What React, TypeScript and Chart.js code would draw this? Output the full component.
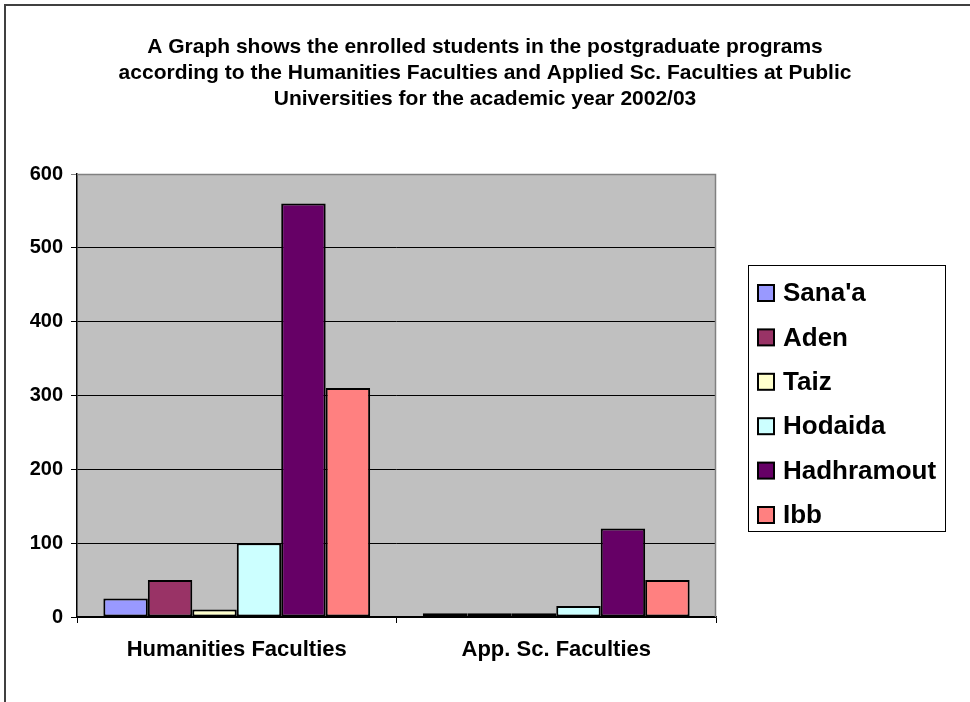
import React, { useEffect, useRef } from "react";
import { Chart, registerables } from "chart.js";

Chart.register(...registerables);

const categories = ["Humanities Faculties", "App. Sc. Faculties"];
const seriesNames = ["Sana'a", "Aden", "Taiz", "Hodaida", "Hadhramout", "Ibb"];
const sanaa = [25, 5];
const aden = [50, 5];
const taiz = [10, 5];
const hodaida = [100, 15];
const hadhramout = [560, 120];
const ibb = [310, 50];
const seriesColors = ["#9999FF", "#993366", "#FFFFCC", "#CCFFFF", "#660066", "#FF8080"];
const titleLines = [
  "A Graph shows the enrolled students in the postgraduate programs",
  "according to the Humanities Faculties and Applied Sc. Faculties at Public",
  "Universities for the academic year 2002/03",
];
const yMin = 0;
const yMax = 600;
const yStep = 100;

const FONT = '"Liberation Sans", Arial, sans-serif';

const framePlugin = {
  id: "framePlugin",
  beforeDraw(chart: any) {
    const { ctx, chartArea } = chart;
    ctx.save();
    ctx.fillStyle = "#ffffff";
    ctx.fillRect(0, 0, chart.width, chart.height);
    // outer frame (top + left)
    ctx.strokeStyle = "#404040";
    ctx.lineWidth = 2;
    ctx.beginPath();
    ctx.moveTo(5, chart.height);
    ctx.lineTo(5, 5);
    ctx.lineTo(chart.width, 5);
    ctx.stroke();
    // plot area
    ctx.fillStyle = "#C0C0C0";
    ctx.fillRect(chartArea.left, chartArea.top, chartArea.right - chartArea.left, chartArea.bottom - chartArea.top);
    ctx.restore();
  },
  beforeDatasetsDraw(chart: any) {
    const { ctx, chartArea } = chart;
    ctx.save();
    ctx.strokeStyle = "#808080";
    ctx.lineWidth = 1.5;
    ctx.beginPath();
    ctx.moveTo(chartArea.left, chartArea.top + 0.5);
    ctx.lineTo(chartArea.right - 0.5, chartArea.top + 0.5);
    ctx.lineTo(chartArea.right - 0.5, chartArea.bottom);
    ctx.stroke();
    ctx.restore();
  },
  afterDraw(chart: any) {
    const { ctx, chartArea } = chart;
    const left = chartArea.right + 32;
    const top = 265;
    const w = 197;
    const h = 266;
    ctx.save();
    ctx.fillStyle = "#ffffff";
    ctx.fillRect(left, top, w, h);
    ctx.strokeStyle = "#000000";
    ctx.lineWidth = 1;
    ctx.strokeRect(left + 0.5, top + 0.5, w, h);
    const step = 44.4;
    chart.data.datasets.forEach((ds: any, i: number) => {
      const cy = top + 28 + step * i;
      ctx.fillStyle = ds.backgroundColor;
      ctx.fillRect(left + 10, cy - 8, 16, 16);
      ctx.strokeStyle = "#000";
      ctx.lineWidth = 2;
      ctx.strokeRect(left + 10, cy - 8, 16, 16);
      ctx.fillStyle = "#000";
      ctx.font = `bold 26px ${FONT}`;
      ctx.textBaseline = "middle";
      ctx.textAlign = "left";
      ctx.fillText(ds.label, left + 35, cy + 1);
    });
    ctx.restore();
  },
};

export default function App() {
  const ref = useRef<HTMLCanvasElement | null>(null);
  useEffect(() => {
    if (!ref.current) return;
    const seriesValues = [sanaa, aden, taiz, hodaida, hadhramout, ibb];
    const chart = new Chart(ref.current, {
      type: "bar",
      data: {
        labels: categories,
        datasets: seriesNames.map((name, i) => ({
          label: name,
          data: seriesValues[i],
          backgroundColor: seriesColors[i],
          borderColor: "#000000",
          borderWidth: 2,
          borderSkipped: false,
          categoryPercentage: 0.835,
          barPercentage: 1,
        })),
      },
      options: {
        animation: false,
        responsive: false,
        maintainAspectRatio: false,
        devicePixelRatio: 1,
        layout: { padding: { left: 0, right: 0, bottom: 25, top: 0 } },
        plugins: {
          legend: { display: false },
          tooltip: { enabled: false },
          title: {
            display: true,
            text: titleLines,
            color: "#000",
            font: { family: FONT, size: 21, weight: "bold", lineHeight: 26 / 21 },
            padding: { top: 34, bottom: 62 },
          },
        },
        scales: {
          x: {
            grid: {
              offset: true,
              drawOnChartArea: false,
              drawTicks: true,
              tickLength: 6,
              color: "#000",
            },
            border: { color: "#000", width: 1.5 },
            ticks: {
              color: "#000",
              font: { family: FONT, size: 22, weight: "bold" },
              padding: 14,
              maxRotation: 0,
            },
            afterFit(scale: any) {
              scale.height = 60;
            },
          },
          y: {
            min: yMin,
            max: yMax,
            ticks: {
              stepSize: yStep,
              color: "#000",
              font: { family: FONT, size: 20, weight: "bold" },
              padding: 8,
            },
            grid: {
              color: (c: any) => (c.tick && c.tick.value === yMax ? "#808080" : "#000"),
              lineWidth: 1,
              tickLength: 6,
            },
            border: { color: "#000", width: 1.5 },
            afterFit(scale: any) {
              scale.width = 77;
            },
          },
          legendSpace: {
            type: "linear",
            position: "right",
            display: true,
            grid: { display: false, drawOnChartArea: false },
            border: { display: false },
            ticks: { display: false },
            afterFit(scale: any) {
              scale.width = 254;
            },
          },
        },
      },
      plugins: [framePlugin],
    });
    return () => chart.destroy();
  }, []);
  return (
    <div style={{ position: "absolute", left: 0, top: 0, width: 970, height: 702 }}>
      <canvas ref={ref} width={970} height={702} style={{ width: 970, height: 702 }} />
    </div>
  );
}
